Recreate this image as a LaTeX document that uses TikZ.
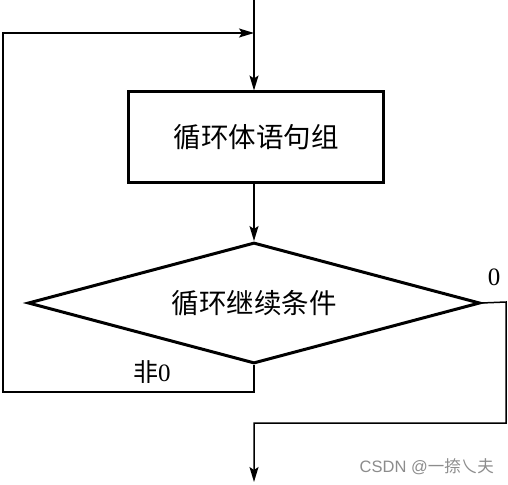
\documentclass[tikz,border=0pt]{standalone}
\usepackage{fontspec}
\setmainfont{Liberation Serif}
\newfontfamily\cjk{Noto Sans CJK SC}
\newfontfamily\wmfont{Liberation Sans}
\usetikzlibrary{arrows.meta,shapes.geometric}
\begin{document}
\begin{tikzpicture}[x=1pt,y=-1pt,
  conn/.style={line width=1.5pt},
  arr/.style={conn,-{Stealth[length=15pt,width=9pt,inset=3pt]}},
  blk/.style={draw,line width=3pt,inner sep=0pt},
  lbl/.style={font=\fontsize{27.5}{29}\selectfont\cjk},
  small/.style={font=\fontsize{25}{27}\selectfont}
]
\useasboundingbox (0,0) rectangle (508,484);
\node[blk,minimum width=255pt,minimum height=90pt,lbl] (body) at (256,137) {循环体语句组};
\node[blk,diamond,aspect=3.77,minimum width=452pt,minimum height=121pt,lbl] (cond) at (254,303) {循环继续条件};
\coordinate (top) at (254,0);
\coordinate (join) at (254,33);
\coordinate (bl) at (254,392);
\coordinate (ll) at (3,392);
\coordinate (lt) at (3,33);
\coordinate (rr) at (506,302);
\coordinate (rb) at (506,423);
\coordinate (mb) at (254,423);
\coordinate (out) at (254,482);
\draw[conn] (top) -- (join);
\draw[arr] (join) -- (join |- body.north);
\draw[arr] (body.south -| join) -- (cond.north);
\draw[arr] (cond.south) -- (bl) -- (ll) -- (lt) -- (join);
\draw[arr] (cond.east) -- (rr) -- (rb) -- (mb) -- (out);
\node[small] (zero) at (494,277) {0};
\node[small,anchor=west,inner sep=0pt] (nz) at (133,372) {{\cjk 非}0};
\node[font=\fontsize{16.5}{18}\selectfont\wmfont,text=black!45,anchor=east,inner sep=0pt] (wm) at (494,467) {CSDN @{\cjk 一捺乀夫}};
\end{tikzpicture}
\end{document}
